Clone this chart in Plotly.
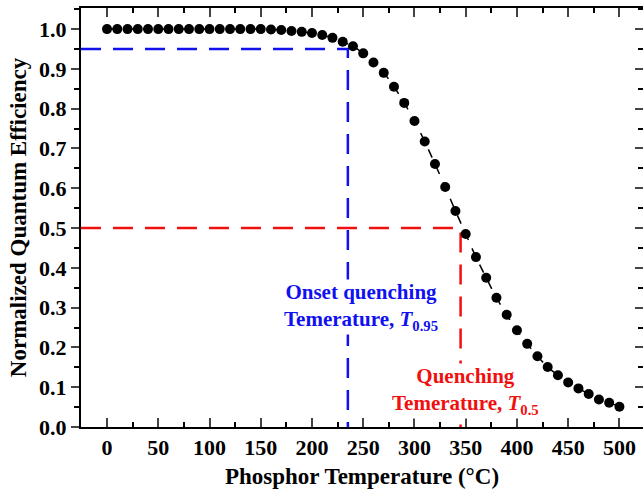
import plotly.graph_objects as go

temps = list(range(0, 501, 10))
qe = [1.0, 1.0, 1.0, 1.0, 1.0, 1.0, 1.0, 1.0, 1.0, 1.0,
      1.0, 1.0, 1.0, 1.0, 1.0, 1.0, 0.999, 0.9975, 0.995, 0.993,
      0.99, 0.985, 0.978, 0.968, 0.957, 0.939, 0.916, 0.89, 0.855, 0.8145,
      0.769, 0.7175, 0.661, 0.603, 0.543, 0.485, 0.427, 0.375, 0.325, 0.282,
      0.243, 0.209, 0.178, 0.151, 0.130, 0.112, 0.097, 0.083, 0.069, 0.061,
      0.051]

t_onset = 235
t_half = 345
q_onset = 0.95
q_half = 0.5
x_range = [-25.4, 523]
y_range = [0, 1.053]
x_ticks = [0, 50, 100, 150, 200, 250, 300, 350, 400, 450, 500]
y_ticks = [0.0, 0.1, 0.2, 0.3, 0.4, 0.5, 0.6, 0.7, 0.8, 0.9, 1.0]

FONT = "Liberation Serif"
BLUE = "#1010f0"
RED = "#f01010"

fig = go.Figure()

# guide lines
fig.add_trace(go.Scatter(x=[x_range[0], t_onset, t_onset], y=[q_onset, q_onset, 0],
                         mode="lines", line=dict(color=BLUE, width=2.5, dash="20px,12px"),
                         hoverinfo="skip", showlegend=False))
fig.add_trace(go.Scatter(x=[x_range[0], t_half, t_half], y=[q_half, q_half, 0],
                         mode="lines", line=dict(color=RED, width=2.5, dash="20px,12px"),
                         hoverinfo="skip", showlegend=False))

# fit line
fig.add_trace(go.Scatter(x=temps, y=qe, mode="lines",
                         line=dict(color="black", width=1.5, dash="dash", shape="spline"),
                         showlegend=False))
# data points
fig.add_trace(go.Scatter(x=temps, y=qe, mode="markers",
                         marker=dict(color="black", size=10),
                         showlegend=False))

# invisible trace to activate right axis
fig.add_trace(go.Scatter(x=[temps[0]], y=[qe[0]], yaxis="y2", mode="markers",
                         marker=dict(opacity=0), hoverinfo="skip", showlegend=False))

fig.update_layout(
    width=643, height=490,
    margin=dict(l=81, r=0, t=8, b=63),
    paper_bgcolor="white", plot_bgcolor="white",
    font=dict(family=FONT, color="black"),
    xaxis=dict(range=x_range, tickvals=x_ticks, ticks="inside", ticklen=9, tickwidth=2,
               showline=True, linewidth=2, linecolor="black", mirror="ticks",
               showgrid=False, zeroline=False,
               tickfont=dict(family=FONT, size=22, weight="bold"),
               minor=dict(dtick=25, tick0=0, ticks="inside", ticklen=5, tickwidth=2, tickcolor="black"),
               title=dict(text="Phosphor Temperature (°C)", font=dict(family=FONT, size=23, weight="bold"),
                          standoff=8)),
    yaxis=dict(range=y_range, tickvals=y_ticks, ticktext=[f"{v:.1f}" for v in y_ticks],
               ticks="outside", ticklen=8, tickwidth=2,
               showline=True, linewidth=2, linecolor="black",
               showgrid=False, zeroline=False,
               tickfont=dict(family=FONT, size=22, weight="bold"),
               minor=dict(dtick=0.05, tick0=0, ticks="outside", ticklen=5, tickwidth=2, tickcolor="black"),
               title=dict(text="Normalized Quantum Efficiency", font=dict(family=FONT, size=23, weight="bold"),
                          standoff=6)),
    yaxis2=dict(range=y_range, overlaying="y", side="right", tickvals=y_ticks,
                ticks="inside", ticklen=8, tickwidth=2, showticklabels=False,
                showline=False, showgrid=False, zeroline=False,
                minor=dict(dtick=0.05, tick0=0, ticks="inside", ticklen=5, tickwidth=2, tickcolor="black")),
)

common = dict(xref="x", yref="y", showarrow=False, bgcolor="white", borderpad=0)
fig.add_annotation(x=248, y=0.302,
                   text="Onset quenching<br>Temerature, <i>T</i><sub>0.95</sub>",
                   font=dict(family=FONT, size=21, color=BLUE, weight="bold"), **common)
fig.add_annotation(x=349.5, y=0.09,
                   text="Quenching<br>Temerature, <i>T</i><sub>0.5</sub>",
                   font=dict(family=FONT, size=21, color=RED, weight="bold"), **common)

fig.write_html("out.html")
